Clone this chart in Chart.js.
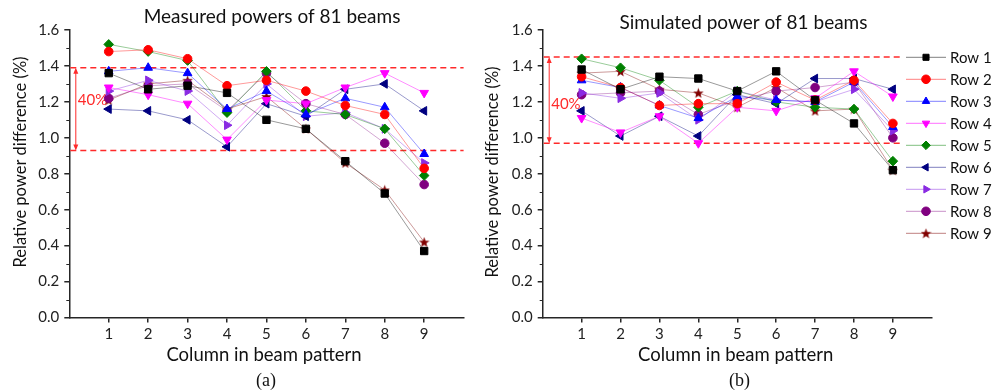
<!DOCTYPE html>
<html>
<head>
<meta charset="utf-8">
<script src="https://cdn.jsdelivr.net/npm/chart.js@4.4.1/dist/chart.umd.min.js"></script>
<style>
  html, body { margin: 0; padding: 0; background: #fff; }
  #wrap { position: relative; width: 994px; height: 390px; }
  #measuredChart { position: absolute; left: 0; top: 0; }
  #simulatedChart { position: absolute; left: 480px; top: 0; }
</style>
</head>
<body>
<div id="wrap">
  <canvas id="measuredChart" width="480" height="390"></canvas>
  <canvas id="simulatedChart" width="514" height="390"></canvas>
</div>
<script>
// 列番号と行の名前
const columns = [1, 2, 3, 4, 5, 6, 7, 8, 9];
const rowNames = ['Row 1', 'Row 2', 'Row 3', 'Row 4', 'Row 5', 'Row 6', 'Row 7', 'Row 8', 'Row 9'];
const yTickValues = [0, 0.2, 0.4, 0.6, 0.8, 1.0, 1.2, 1.4, 1.6];

// (a) 測定値
const measRow1 = [1.36, 1.27, 1.29, 1.25, 1.10, 1.05, 0.87, 0.69, 0.37];
const measRow2 = [1.48, 1.49, 1.44, 1.29, 1.32, 1.26, 1.18, 1.13, 0.83];
const measRow3 = [1.37, 1.39, 1.36, 1.16, 1.26, 1.13, 1.22, 1.17, 0.91];
const measRow4 = [1.28, 1.24, 1.19, 0.99, 1.21, 1.19, 1.28, 1.36, 1.25];
const measRow5 = [1.52, 1.48, 1.43, 1.14, 1.37, 1.15, 1.13, 1.05, 0.79];
const measRow6 = [1.16, 1.15, 1.10, 0.95, 1.19, 1.12, 1.27, 1.30, 1.15];
const measRow7 = [1.26, 1.32, 1.26, 1.07, 1.30, 1.12, 1.14, 1.05, 0.86];
const measRow8 = [1.22, 1.29, 1.30, 1.15, 1.36, 1.19, 1.13, 0.97, 0.74];
const measRow9 = [1.21, 1.30, 1.32, 1.16, 1.23, 1.05, 0.86, 0.71, 0.42];
const measBand = [0.93, 1.39];

// (b) シミュレーション値
const simRow1 = [1.38, 1.27, 1.34, 1.33, 1.26, 1.37, 1.21, 1.08, 0.82];
const simRow2 = [1.34, 1.28, 1.18, 1.19, 1.19, 1.31, 1.21, 1.32, 1.08];
const simRow3 = [1.32, 1.28, 1.18, 1.11, 1.23, 1.21, 1.20, 1.31, 1.06];
const simRow4 = [1.11, 1.03, 1.12, 0.97, 1.17, 1.15, 1.22, 1.37, 1.23];
const simRow5 = [1.44, 1.39, 1.32, 1.17, 1.26, 1.20, 1.17, 1.16, 0.87];
const simRow6 = [1.15, 1.01, 1.12, 1.01, 1.24, 1.19, 1.33, 1.33, 1.27];
const simRow7 = [1.25, 1.22, 1.25, 1.10, 1.26, 1.21, 1.20, 1.27, 1.04];
const simRow8 = [1.24, 1.25, 1.26, 1.13, 1.21, 1.26, 1.28, 1.31, 1.00];
const simRow9 = [1.36, 1.37, 1.27, 1.25, 1.17, 1.28, 1.15, 1.16, 0.82];
const simBand = [0.97, 1.45];

const measuredRows = [measRow1, measRow2, measRow3, measRow4, measRow5, measRow6, measRow7, measRow8, measRow9];
const simulatedRows = [simRow1, simRow2, simRow3, simRow4, simRow5, simRow6, simRow7, simRow8, simRow9];

// 見た目の設定
const FONT = 'Lato, "Open Sans", sans-serif';
const AXIS = '#262626';
const BAND = '#ff2a2a';
const rowColors = ['#000000', '#ff0000', '#0000ff', '#ff00ff', '#008000', '#000080', '#8a2be2', '#800080', '#800000'];
const rowLines = ['rgba(0,0,0,0.4)', 'rgba(255,0,0,0.4)', 'rgba(0,0,255,0.4)', 'rgba(255,0,255,0.45)',
  'rgba(0,128,0,0.4)', 'rgba(0,0,128,0.4)', 'rgba(138,43,226,0.4)', 'rgba(128,0,128,0.35)', 'rgba(128,0,0,0.4)'];

// 星形マーカー
function makeStar(color) {
  const c = document.createElement('canvas');
  c.width = 11; c.height = 11;
  const g = c.getContext('2d');
  g.fillStyle = color;
  g.beginPath();
  for (let i = 0; i < 10; i++) {
    const r = i % 2 === 0 ? 5.5 : 2.3;
    const a = -Math.PI / 2 + i * Math.PI / 5;
    const px = 5.5 + r * Math.cos(a), py = 6 + r * Math.sin(a);
    if (i === 0) g.moveTo(px, py); else g.lineTo(px, py);
  }
  g.closePath();
  g.fill();
  return c;
}

const rowMarkers = [
  { style: 'rect', rotation: 0, radius: 5.2 },
  { style: 'circle', rotation: 0, radius: 4.3 },
  { style: 'triangle', rotation: 0, radius: 5 },
  { style: 'triangle', rotation: 180, radius: 5 },
  { style: 'rectRot', rotation: 0, radius: 4.8 },
  { style: 'triangle', rotation: -90, radius: 5 },
  { style: 'triangle', rotation: 90, radius: 5 },
  { style: 'circle', rotation: 0, radius: 4.3 },
  { style: makeStar('#800000'), rotation: 0, radius: 5.5 }
];

function buildDatasets(rows) {
  return rows.map((vals, i) => ({
    label: rowNames[i],
    data: columns.map((c, j) => ({ x: c, y: vals[j] })),
    borderColor: rowLines[i],
    borderWidth: 1,
    backgroundColor: rowColors[i],
    pointBackgroundColor: rowColors[i],
    pointBorderColor: rowColors[i],
    pointBorderWidth: 1,
    pointStyle: rowMarkers[i].style,
    pointRotation: rowMarkers[i].rotation,
    pointRadius: rowMarkers[i].radius,
    tension: 0
  }));
}

// 補助線・注釈・凡例を描くプラグイン
const decoPlugin = {
  id: 'deco',
  beforeDatasetsDraw(chart, args, o) {
    const { ctx } = chart;
    const xs = chart.scales.x, ys = chart.scales.y;
    ctx.save();
    // 小目盛り
    ctx.strokeStyle = AXIS;
    ctx.lineWidth = 1.2;
    ctx.beginPath();
    for (let k = 1; k < 16; k += 2) {
      const py = Math.round(ys.getPixelForValue(k / 10)) + 0.5;
      ctx.moveTo(xs.left - 3, py);
      ctx.lineTo(xs.left, py);
    }
    ctx.stroke();
    // 破線
    ctx.strokeStyle = BAND;
    ctx.lineWidth = 1.5;
    ctx.setLineDash([6, 4]);
    ctx.beginPath();
    o.band.forEach(v => {
      const py = ys.getPixelForValue(v);
      ctx.moveTo(xs.left + 1, py);
      ctx.lineTo(xs.getPixelForValue(o.dashEnd), py);
    });
    ctx.stroke();
    ctx.setLineDash([]);
    // 両矢印
    const ax = xs.left + 6.5;
    const top = ys.getPixelForValue(o.band[1]), bot = ys.getPixelForValue(o.band[0]);
    ctx.lineWidth = 1;
    ctx.beginPath();
    ctx.moveTo(ax, top + 2);
    ctx.lineTo(ax, bot - 2);
    ctx.stroke();
    ctx.fillStyle = BAND;
    ctx.beginPath();
    ctx.moveTo(ax, top); ctx.lineTo(ax - 2.5, top + 6); ctx.lineTo(ax + 2.5, top + 6); ctx.closePath();
    ctx.moveTo(ax, bot); ctx.lineTo(ax - 2.5, bot - 6); ctx.lineTo(ax + 2.5, bot - 6); ctx.closePath();
    ctx.fill();
    ctx.font = '15px ' + FONT;
    ctx.textAlign = 'left';
    ctx.textBaseline = 'middle';
    ctx.fillText('40%', ax + 2, ys.getPixelForValue(o.labelAt));
    ctx.restore();
  },
  afterDraw(chart, args, o) {
    const { ctx } = chart;
    ctx.save();
    ctx.fillStyle = '#111';
    ctx.textAlign = 'center';
    ctx.textBaseline = 'middle';
    ctx.font = '19px ' + FONT;
    ctx.fillText(o.title, o.titleX, o.titleY);
    ctx.font = '18.5px ' + FONT;
    ctx.fillText('Column in beam pattern', o.xTitleX, 355);
    ctx.font = '18px "Liberation Serif", serif';
    ctx.fillText(o.tag, o.tagX, 381);
    ctx.save();
    ctx.translate(o.yTitleX, o.yTitleY);
    ctx.rotate(-Math.PI / 2);
    ctx.font = '16.5px ' + FONT;
    ctx.fillText('Relative power difference (%)', 0, 0);
    ctx.restore();

    if (o.legend) {
      ctx.fillStyle = '#fff';
      ctx.fillRect(o.legend.x - 4, 45, 200, 200);
      const helpers = Chart.helpers;
      chart.data.datasets.forEach((ds, i) => {
        const ly = 57.3 + i * 22;
        ctx.strokeStyle = ds.borderColor;
        ctx.lineWidth = 1.2;
        ctx.beginPath();
        ctx.moveTo(o.legend.x, ly);
        ctx.lineTo(o.legend.x + 40, ly);
        ctx.stroke();
        ctx.fillStyle = ds.pointBackgroundColor;
        ctx.strokeStyle = ds.pointBorderColor;
        ctx.lineWidth = 1;
        const r = Math.min(ds.pointRadius, 4.3);
        if (helpers && helpers.drawPoint) {
          helpers.drawPoint(ctx, { pointStyle: ds.pointStyle, rotation: ds.pointRotation, radius: r, borderWidth: 1 }, o.legend.x + 20, ly);
        } else {
          ctx.beginPath(); ctx.arc(o.legend.x + 20, ly, r, 0, Math.PI * 2); ctx.fill();
        }
        ctx.fillStyle = '#111';
        ctx.font = '15px ' + FONT;
        ctx.textAlign = 'left';
        ctx.fillText(ds.label, o.legend.x + 44, ly + 1);
      });
    }
    ctx.restore();
  }
};

function makeChart(id, rows, yWidth, padRight, deco) {
  const ctx = document.getElementById(id).getContext('2d');
  return new Chart(ctx, {
    type: 'line',
    data: { datasets: buildDatasets(rows) },
    options: {
      responsive: false,
      animation: false,
      devicePixelRatio: 1,
      layout: { padding: { left: 0, top: 30, right: padRight, bottom: 0 } },
      plugins: { legend: { display: false }, tooltip: { enabled: false }, deco: deco },
      scales: {
        x: {
          type: 'linear', min: 0, max: 10,
          afterBuildTicks: s => { s.ticks = columns.map(v => ({ value: v })); },
          afterFit: s => { s.height = 72.5; },
          ticks: { color: '#222', font: { family: FONT, size: 15 }, padding: 3, maxRotation: 0, autoSkip: false,
            callback: v => String(v) },
          grid: { display: true, drawOnChartArea: false, drawTicks: true, tickLength: 5, color: AXIS, lineWidth: 1.5 },
          border: { display: true, color: AXIS, width: 1.5 }
        },
        y: {
          type: 'linear', min: 0, max: 1.6,
          afterBuildTicks: s => { s.ticks = yTickValues.map(v => ({ value: v })); },
          afterFit: s => { s.width = yWidth; },
          ticks: { color: '#222', font: { family: FONT, size: 15 }, padding: 5, callback: v => v.toFixed(1) },
          grid: { display: true, drawOnChartArea: false, drawTicks: true, tickLength: 5, color: AXIS, lineWidth: 1.5 },
          border: { display: true, color: AXIS, width: 1.5 }
        }
      }
    },
    plugins: [decoPlugin]
  });
}

makeChart('measuredChart', measuredRows, 69.3, 16.4, {
  band: measBand, dashEnd: 10, labelAt: 1.21,
  title: 'Measured powers of 81 beams', titleX: 272, titleY: 17,
  xTitleX: 264, tagX: 266, tag: '(a)', yTitleX: 21, yTitleY: 162
});

makeChart('simulatedChart', simulatedRows, 62.7, 62.2, {
  band: simBand, dashEnd: 9.2, labelAt: 1.185,
  title: 'Simulated power of 81 beams', titleX: 263.5, titleY: 23,
  xTitleX: 255.7, tagX: 259.5, tag: '(b)', yTitleX: 13, yTitleY: 172,
  legend: { x: 426 }
});
</script>
</body>
</html>
